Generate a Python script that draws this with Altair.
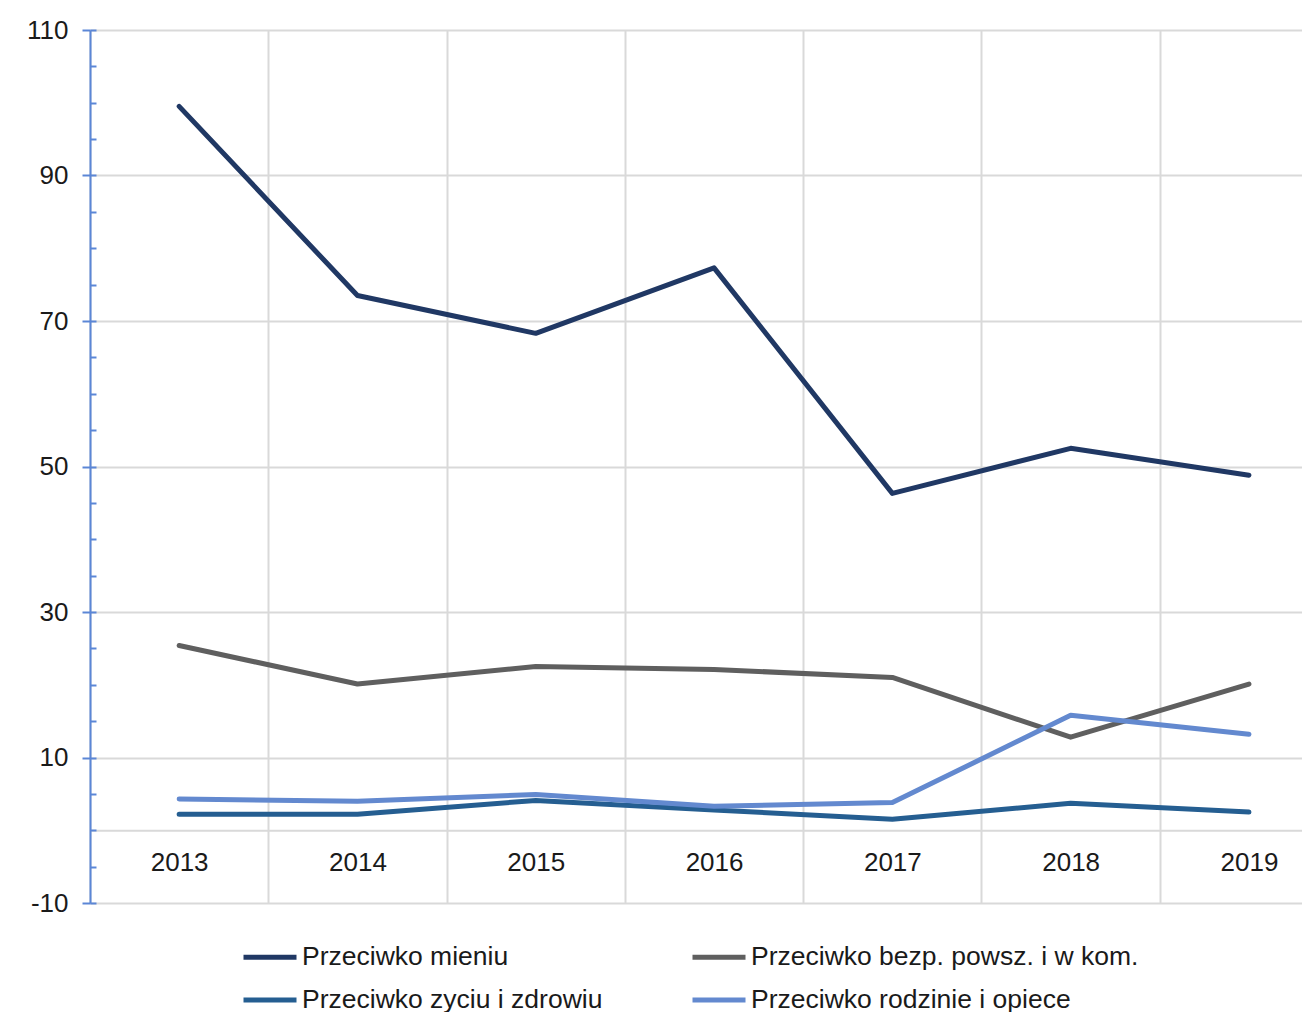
import altair as alt
import pandas as pd

years = [2013, 2014, 2015, 2016, 2017, 2018, 2019]
series_names = [
    "Przeciwko mieniu",
    "Przeciwko bezp. powsz. i w kom.",
    "Przeciwko zyciu i zdrowiu",
    "Przeciwko rodzinie i opiece",
]
mieniu = [99.5, 73.5, 68.3, 77.3, 46.3, 52.5, 48.8]
bezp = [25.4, 20.1, 22.5, 22.1, 21.0, 12.8, 20.1]
zyciu = [2.2, 2.2, 4.1, 2.8, 1.5, 3.7, 2.5]
rodzinie = [4.3, 4.0, 4.9, 3.3, 3.8, 15.8, 13.2]
colors = ["#203864", "#5f5f5f", "#255e91", "#6389cf"]

y_major = [-10, 10, 30, 50, 70, 90, 110]
y_minor = list(range(-10, 111, 5))
x_bounds = [y - 0.5 for y in years] + [years[-1] + 0.5]

rows = []
for name, vals in zip(series_names, [mieniu, bezp, zyciu, rodzinie]):
    for yr, v in zip(years, vals):
        rows.append({"year": yr, "value": v, "series": name})
df = pd.DataFrame(rows)

W = 1212
H = 873
STEP = 178.3
FONT = "Liberation Sans"
AX_BLUE = "#5b86d6"
GRID = "#d9d9d9"
TXT = "#1a1a1a"

x_scale = alt.Scale(domain=[2012.5, 2012.5 + W / STEP], nice=False, zero=False)
y_scale = alt.Scale(domain=[-10, 110], nice=False, zero=False)
color_scale = alt.Scale(domain=series_names, range=colors)

x_grid_axis = alt.Axis(orient="bottom", values=x_bounds, grid=True, gridColor=GRID, gridWidth=2,
                       labels=False, ticks=False, domain=False, title=None)
x_label_axis = alt.Axis(orient="bottom", values=years, format="d", grid=False, ticks=False, tickSize=0,
                        domain=True, domainColor=GRID, domainWidth=2, offset=-H * 10 / 120,
                        labelFontSize=26, labelFont=FONT, labelColor=TXT, labelPadding=19, title=None)
y_major_axis = alt.Axis(orient="left", values=y_major, grid=True, gridColor=GRID, gridWidth=2,
                        tickSize=8, tickColor=AX_BLUE, tickWidth=2, domain=True, domainColor=AX_BLUE,
                        domainWidth=2, labelFontSize=26, labelFont=FONT, labelColor=TXT,
                        labelPadding=14, labelExpr="'' + datum.value", title=None)
y_minor_axis = alt.Axis(orient="left", values=y_minor, grid=False, tickSize=6, tickColor=AX_BLUE,
                        tickWidth=2, labels=False, domain=False, offset=-6, title=None)

legend = alt.Legend(title=None, columns=2, direction="horizontal", orient="none",
                    legendX=151, legendY=898,
                    symbolType="stroke", symbolSize=2809, symbolStrokeWidth=5,
                    labelFontSize=26.5, labelFont=FONT, labelColor=TXT, labelOffset=3,
                    columnPadding=79, rowPadding=-10, labelLimit=800, padding=0)


def line_layer(name, x_axis, y_axis):
    return alt.Chart(df).transform_filter(alt.datum.series == name).mark_line(
        strokeWidth=5, strokeCap="round", strokeJoin="round"
    ).encode(
        x=alt.X("year:Q", scale=x_scale, axis=x_axis),
        y=alt.Y("value:Q", scale=y_scale, axis=y_axis),
        color=alt.Color("series:N", scale=color_scale, legend=legend),
    )


chart = alt.layer(
    line_layer(series_names[0], x_grid_axis, y_major_axis),
    line_layer(series_names[1], x_label_axis, y_minor_axis),
    line_layer(series_names[2], None, None),
    line_layer(series_names[3], None, None),
).resolve_axis(x="independent", y="independent").properties(
    width=W,
    height=H,
    autosize=alt.AutoSizeParams(type="none"),
    padding={"left": 82, "top": 22, "right": 0, "bottom": 112},
    background="white",
).configure_view(stroke=None).configure(font=FONT)

chart.save("out.html", embed_options={"renderer": "svg", "actions": False})
